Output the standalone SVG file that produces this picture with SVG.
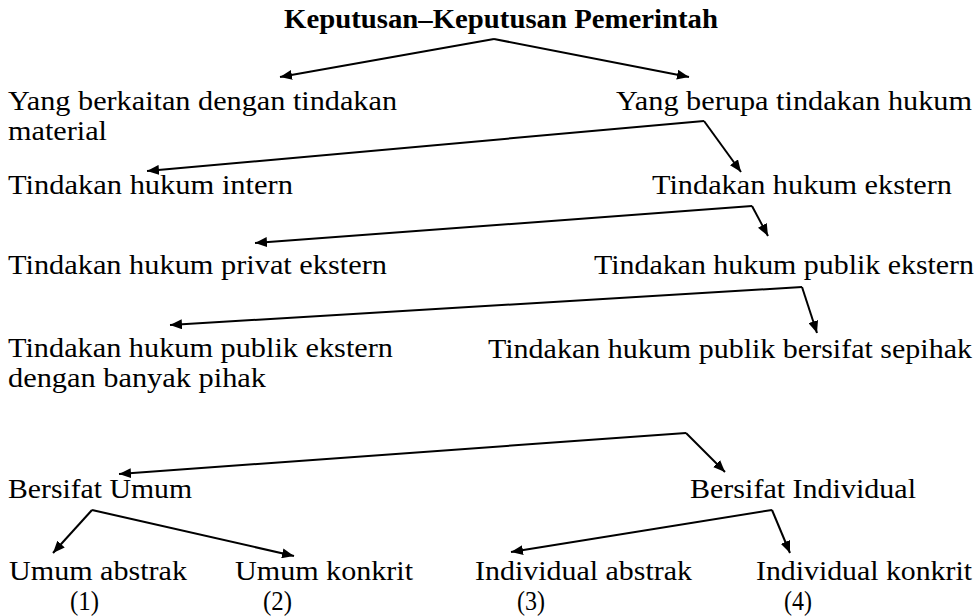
<svg xmlns="http://www.w3.org/2000/svg" width="979" height="616" viewBox="0 0 979 616">
<style>
text{font-family:"Liberation Serif","Times New Roman",serif;font-size:27px;fill:#000}
.title{font-weight:bold}
.conn path{fill:none;stroke:#000;stroke-width:2;marker-end:url(#ah)}
</style>
<defs>
<marker id="ah" viewBox="0 0 12 10" refX="12" refY="5" markerWidth="12" markerHeight="10" markerUnits="userSpaceOnUse" orient="auto">
<path d="M0,0 L12,5 L0,10 Z" fill="#000"/>
</marker>
</defs>
<rect width="979" height="616" fill="#fff"/>
<g id="n-root"><text class="title" x="284" y="28" textLength="434" lengthAdjust="spacingAndGlyphs">Keputusan–Keputusan Pemerintah</text></g>
<g id="n-material"><text x="8" y="110" textLength="389" lengthAdjust="spacingAndGlyphs">Yang berkaitan dengan tindakan</text><text x="8" y="140" textLength="99" lengthAdjust="spacingAndGlyphs">material</text></g>
<g id="n-hukum"><text x="616" y="110" textLength="356" lengthAdjust="spacingAndGlyphs">Yang berupa tindakan hukum</text></g>
<g id="n-intern"><text x="8" y="194" textLength="285" lengthAdjust="spacingAndGlyphs">Tindakan hukum intern</text></g>
<g id="n-ekstern"><text x="652" y="194" textLength="300" lengthAdjust="spacingAndGlyphs">Tindakan hukum ekstern</text></g>
<g id="n-privat"><text x="8" y="274" textLength="379" lengthAdjust="spacingAndGlyphs">Tindakan hukum privat ekstern</text></g>
<g id="n-publik"><text x="594" y="274" textLength="380" lengthAdjust="spacingAndGlyphs">Tindakan hukum publik ekstern</text></g>
<g id="n-banyak"><text x="8" y="357" textLength="385" lengthAdjust="spacingAndGlyphs">Tindakan hukum publik ekstern</text><text x="8" y="387" textLength="258" lengthAdjust="spacingAndGlyphs">dengan banyak pihak</text></g>
<g id="n-sepihak"><text x="488" y="358" textLength="484" lengthAdjust="spacingAndGlyphs">Tindakan hukum publik bersifat sepihak</text></g>
<g id="n-umum"><text x="8" y="498" textLength="184" lengthAdjust="spacingAndGlyphs">Bersifat Umum</text></g>
<g id="n-individual"><text x="690" y="498" textLength="226" lengthAdjust="spacingAndGlyphs">Bersifat Individual</text></g>
<g id="n-ua"><text x="9" y="580" textLength="178" lengthAdjust="spacingAndGlyphs">Umum abstrak</text><text x="70" y="610" textLength="29" lengthAdjust="spacingAndGlyphs">(1)</text></g>
<g id="n-uk"><text x="235" y="580" textLength="178" lengthAdjust="spacingAndGlyphs">Umum konkrit</text><text x="263" y="610" textLength="29" lengthAdjust="spacingAndGlyphs">(2)</text></g>
<g id="n-ia"><text x="475" y="580" textLength="217" lengthAdjust="spacingAndGlyphs">Individual abstrak</text><text x="517" y="610" textLength="28" lengthAdjust="spacingAndGlyphs">(3)</text></g>
<g id="n-ik"><text x="756" y="580" textLength="216" lengthAdjust="spacingAndGlyphs">Individual konkrit</text><text x="784" y="610" textLength="28" lengthAdjust="spacingAndGlyphs">(4)</text></g>
<g id="connectors" class="conn">
<path d="M494,39 L280,77"/><path d="M494,39 L689,77"/>
<path d="M704,121 L147,171"/><path d="M704,121 L741,172"/>
<path d="M752,206 L255,243"/><path d="M752,206 L768,236"/>
<path d="M802,287 L170,325"/><path d="M802,287 L817,333"/>
<path d="M686,433 L119,474"/><path d="M686,433 L725,472"/>
<path d="M92,510 L53,553"/><path d="M92,510 L294,556"/>
<path d="M772,510 L511,552"/><path d="M772,510 L790,553"/>
</g>
</svg>
